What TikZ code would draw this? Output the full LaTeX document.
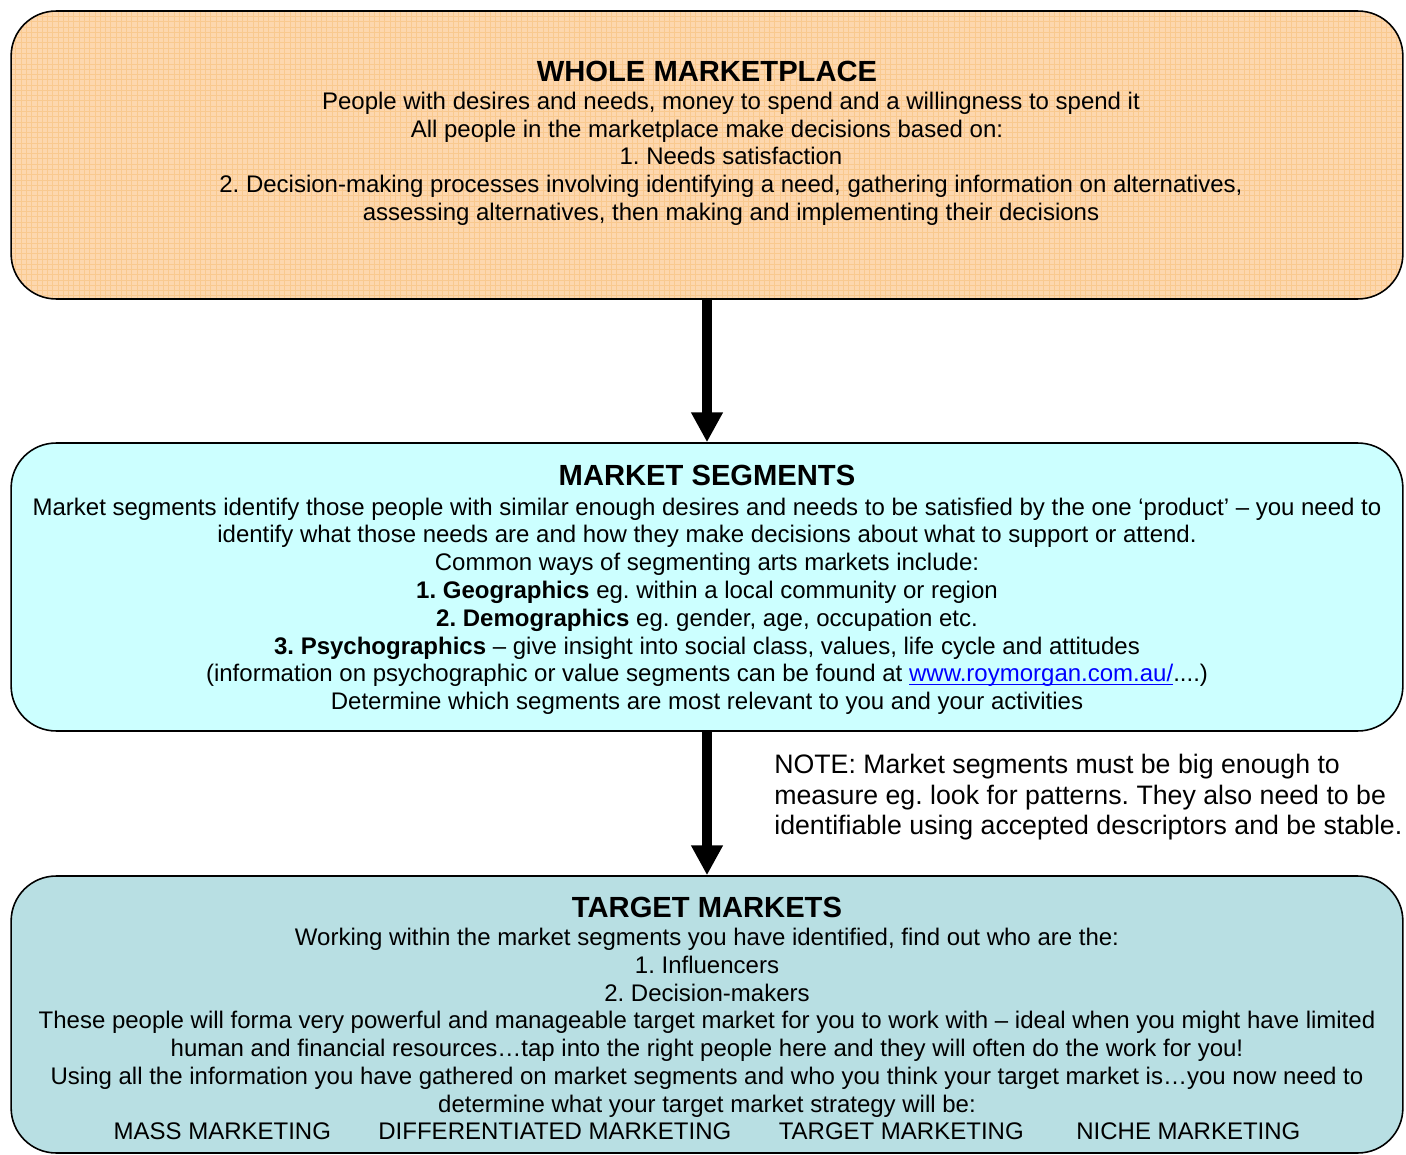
\documentclass[tikz,border=0pt]{standalone}
\usepackage{fontspec}
\setmainfont{Liberation Sans}
\usetikzlibrary{arrows.meta,patterns}

\definecolor{wholefill}{HTML}{FDD7AE}
\definecolor{wholegrid}{HTML}{F9C98F}
\definecolor{segfill}{HTML}{CCFFFF}
\definecolor{targetfill}{HTML}{B8DFE3}
\definecolor{linkblue}{HTML}{0000FF}

% web address with a thin underline just under the baseline
\newcommand\weblink[1]{\textcolor{linkblue}{\setbox0\hbox{#1}\rlap{\rule[-1.7pt]{\wd0}{0.7pt}}\box0}}

\begin{document}
\frenchspacing
\begin{tikzpicture}[x=0.02cm,y=-0.02cm,
		panel/.style={draw=black, line width=0.9pt, rounded corners=0.9cm, minimum width=27.84cm, inner sep=0pt},
		bodytext/.style={anchor=north, align=center, inner sep=0pt, font=\fontsize{13.66}{15.8}\selectfont},
		flow/.style={line width=6.2pt, -{Triangle[length=17pt,width=17pt]}}]
		\useasboundingbox (0,0) rectangle (1406,1155);
		\def\pad{\hspace*{27.3pt}}
		
		%Whole marketplace
		\node[panel, preaction={fill=wholefill}, pattern=grid, pattern color=wholegrid,
			minimum height=5.76cm] (whole) at (707,155) {};
		\node[bodytext] (wholetext) at (707,61) {%
			{\fontsize{16.6}{15.8}\selectfont\bfseries WHOLE MARKETPLACE}\\
			\pad People with desires and needs, money to spend and a willingness to spend it\\
			All people in the marketplace make decisions based on:\\
			\pad 1. Needs satisfaction\\
			\pad 2. Decision-making processes involving identifying a need, gathering information on alternatives,\\
			\pad assessing alternatives, then making and implementing their decisions};
		
		%Market segments
		\node[panel, fill=segfill, minimum height=5.76cm] (segments) at (707,587) {};
		\node[bodytext] (segtext) at (707,465) {%
			{\fontsize{16.6}{15.8}\selectfont\bfseries MARKET SEGMENTS}\\[1pt]
			Market segments identify those people with similar enough desires and needs to be satisfied by the one ‘product’ – you need to\\
			identify what those needs are and how they make decisions about what to support or attend.\\
			Common ways of segmenting arts markets include:\\
			\textbf{1. Geographics} eg. within a local community or region\\
			\textbf{2. Demographics} eg. gender, age, occupation etc.\\
			\textbf{3. Psychographics} – give insight into social class, values, life cycle and attitudes\\
			(information on psychographic or value segments can be found at \weblink{www.roymorgan.com.au/}....)\\
			Determine which segments are most relevant to you and your activities};
		
		%Target markets
		\node[panel, fill=targetfill, minimum height=5.54cm] (target) at (707,1014.5) {};
		\node[bodytext] (targettext) at (707,897) {%
			{\fontsize{16.6}{15.8}\selectfont\bfseries TARGET MARKETS}\\
			Working within the market segments you have identified, find out who are the:\\
			1. Influencers\\
			2. Decision-makers\\
			These people will forma very powerful and manageable target market for you to work with – ideal when you might have limited\\
			human and financial resources…tap into the right people here and they will often do the work for you!\\
			Using all the information you have gathered on market segments and who you think your target market is…you now need to\\
			determine what your target market strategy will be:\\
			MASS MARKETING\hspace{27pt}DIFFERENTIATED MARKETING\hspace{27pt}TARGET MARKETING\hspace{30pt}NICHE MARKETING};
		
		%Note beside the lower arrow
		\node[anchor=north west, align=left, inner sep=0pt, font=\fontsize{15.2}{17.4}\selectfont] (note) at (774,754) {%
			NOTE: Market segments must be big enough to\\
			measure eg. look for patterns. They also need to be\\
			identifiable using accepted descriptors and be stable.};
		
		%Arrows
		\draw[flow] (whole) -- (segments);
		\draw[flow] (segments) -- (target);
	\end{tikzpicture}
\end{document}
